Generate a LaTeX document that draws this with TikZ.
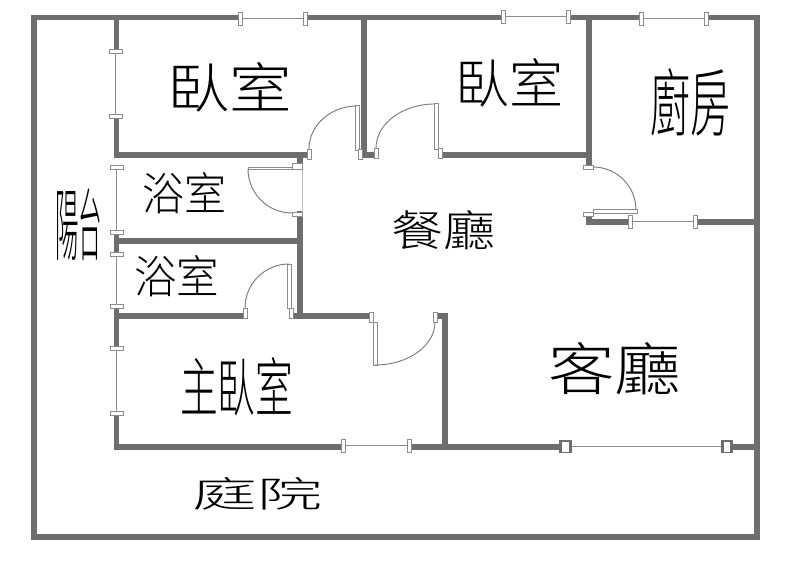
\documentclass[tikz,border=0pt]{standalone}
\usepackage{graphicx}
\usepackage{fontspec}
\newfontfamily\cjk{Noto Sans CJK TC Light}
\definecolor{wallc}{HTML}{6E6E6E}
\definecolor{framec}{HTML}{8C8C8C}
\tikzset{
  wall/.style={draw=wallc,line width=5.3pt,line cap=rect},
  frame/.style={draw=framec,fill=white,line width=1pt},
  pane/.style={draw=framec,line width=1pt},
  bigpane/.style={draw=framec,line width=1.4pt},
  swing/.style={draw=framec!85!black,line width=0.9pt},
  lab/.style={inner sep=0pt,outer sep=0pt,anchor=center,text=black}
}
\newcommand{\hwin}[3]{% x1 x2 y
  \draw[pane] (#1,#3) -- (#2,#3);
  \filldraw[frame] (#1-2,#3-6.5) rectangle (#1+2,#3+6.5);
  \filldraw[frame] (#2-2,#3-6.5) rectangle (#2+2,#3+6.5);}
\newcommand{\vwin}[3]{% x y1 y2
  \draw[pane] (#1,#2) -- (#1,#3);
  \filldraw[frame] (#1-6.5,#2-2) rectangle (#1+6.5,#2+2);
  \filldraw[frame] (#1-6.5,#3-2) rectangle (#1+6.5,#3+2);}
\newcommand{\bigwin}[1]{% centre x
  \fill[wallc] (#1-6.2,440) rectangle (#1+6.2,453.3);
  \fill[white] (#1-3.3,441.6) rectangle (#1+3.3,451.8);}
\newcommand{\jamb}[4]{\filldraw[frame] (#1,#2) rectangle (#3,#4);}
\newcommand{\lbl}[6]{\node[lab] (#1) at (#2,#3) {\resizebox{#4pt}{#5pt}{\cjk\fontsize{40}{40}\selectfont #6}};}
\begin{document}
\begin{tikzpicture}[x=1pt,y=-1pt]
\useasboundingbox (0,0) rectangle (797,575);
\fill[white] (0,0) rectangle (797,575);
% outer walls
\draw[wall] (34,17.5) rectangle (757,537);
% interior walls
\draw[wall] (116.5,17.5) -- (116.5,117);
\draw[wall] (116.5,155) -- (306,155);
\draw[wall] (116.5,117) -- (116.5,155);
\draw[wall] (300,155) -- (300,166);
\draw[wall] (300,214) -- (300,316);
\draw[wall] (116.5,241) -- (300,241);
\draw[wall] (116.5,232) -- (116.5,254);
\draw[wall] (116.5,306) -- (116.5,348);
\draw[wall] (116.5,413) -- (116.5,447);
\draw[wall] (116.5,316) -- (243,316);
\draw[wall] (293,316) -- (368,316);
\draw[wall] (438,316) -- (445,316) -- (445,447);
\draw[wall] (116.5,447) -- (757,447);
\draw[wall] (364,17.5) -- (364,155) -- (372,155);
\draw[wall] (442,155) -- (589,155);
\draw[wall] (589,17.5) -- (589,165);
\draw[wall] (589,215) -- (589,222) -- (757,222);
% window openings
\fill[white] (243,12) rectangle (303,24);
\fill[white] (505,12) rectangle (566,24);
\fill[white] (643,12) rectangle (704,24);
\fill[white] (110,54) rectangle (123,115);
\fill[white] (110,169) rectangle (123,230);
\fill[white] (110,256) rectangle (123,304);
\fill[white] (110,350) rectangle (123,411);
\fill[white] (632,217) rectangle (693,227);
\fill[white] (345,441) rectangle (407,452);
\fill[white] (572,441) rectangle (721,452);
% windows
\hwin{240}{305}{19}
\hwin{503}{568}{16.7}
\hwin{641}{706}{19}
\hwin{630}{695}{221.5}
\hwin{343}{409}{445.5}
\vwin{115.7}{52}{117}
\vwin{116.7}{167}{232}
\vwin{116.7}{254}{306}
\vwin{116.7}{348}{413}
% big window
\draw[bigpane] (565,446.7) -- (727,446.7);
\bigwin{565.5}
\bigwin{727}
% door bedroom 1
\jamb{355}{106}{359}{150}
\jamb{358}{149}{362}{159}
\jamb{307}{149}{311}{159}
\draw[swing] (309,149) arc[start angle=180,end angle=270,x radius=48,y radius=43];
% door bedroom 2
\jamb{434}{104}{438}{149}
\jamb{438}{148}{442}{158}
\jamb{374}{148}{378}{158}
\draw[swing] (376,148) arc[start angle=180,end angle=270,x radius=59,y radius=44];
% door kitchen
\jamb{583}{165}{593}{169}
\jamb{593}{209}{637}{213}
\jamb{583}{212}{593}{216}
\draw[swing] (593,167) arc[start angle=270,end angle=360,radius=43];
% door upper bath
\draw[draw=black!25,line width=0.8pt] (302,165) -- (302,214);
\jamb{248}{167}{292}{169.5}
\jamb{292}{163.5}{302}{169.5}
\jamb{292}{212}{302}{216}
\draw[swing] (248,169) arc[start angle=180,end angle=90,radius=44];
% door lower bath
\fill[white] (247,314) rectangle (289,319);
\jamb{287}{264}{291}{308}
\jamb{289}{308}{293}{318}
\jamb{243}{308}{247}{318}
\draw[swing] (245,308) arc[start angle=180,end angle=270,radius=44];
% door master bedroom
\jamb{369}{312}{373}{322}
\jamb{373}{322}{377}{365}
\jamb{433}{312}{437}{322}
\draw[swing] (375,365) arc[start angle=90,end angle=0,x radius=60,y radius=43];
% labels
\lbl{a}{229.5}{87.5}{125}{46}{臥室}
\lbl{b}{184}{193.5}{84}{38}{浴室}
\lbl{c}{78.5}{224.5}{47}{66}{陽台}
\lbl{d}{176.5}{276.5}{85}{38}{浴室}
\lbl{e}{509}{83}{108}{45}{臥室}
\lbl{f}{690.5}{102.5}{80}{62}{廚房}
\lbl{g}{443.5}{230.5}{104}{36}{餐廳}
\lbl{h}{614.5}{368.5}{133}{48}{客廳}
\lbl{i}{236.5}{386.5}{113}{54}{主臥室}
\lbl{j}{257}{493.5}{130}{30}{庭院}
\end{tikzpicture}
\end{document}
